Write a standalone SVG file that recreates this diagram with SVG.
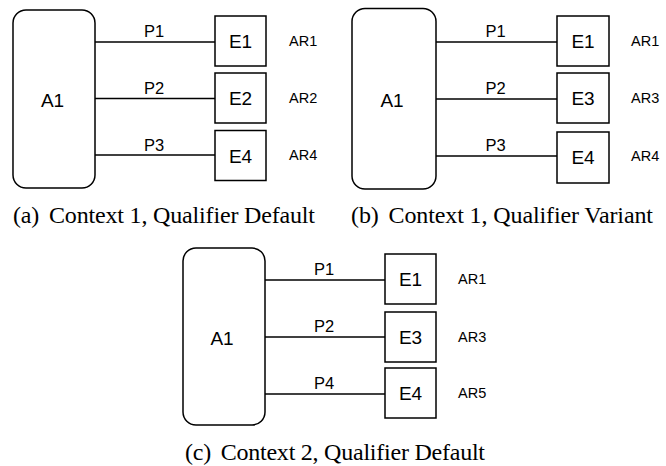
<svg xmlns="http://www.w3.org/2000/svg" width="666" height="466" viewBox="0 0 666 466">
<style>
.a{fill:#fff;stroke:#000;stroke-width:1.5}
.e{fill:#fff;stroke:#000;stroke-width:1.5}
.l{stroke:#000;stroke-width:1.3;fill:none}
.t{font-family:"Liberation Sans",Arial,sans-serif;fill:#000;text-anchor:middle}
.big{font-size:19px}
.p{font-size:16.5px}
.ar{font-family:"Liberation Sans",Arial,sans-serif;font-size:14.5px;fill:#000}
.cap{font-family:"Liberation Serif","Times New Roman",serif;font-size:24px;fill:#000}
</style>
<rect width="666" height="466" fill="#fff"/>
<g id="connectors">
<line class="l" x1="95" y1="42" x2="215" y2="42"/>
<line class="l" x1="95" y1="98.5" x2="215" y2="98.5"/>
<line class="l" x1="95" y1="155" x2="215" y2="155"/>
<line class="l" x1="436" y1="42" x2="557" y2="42"/>
<line class="l" x1="436" y1="99" x2="557" y2="99"/>
<line class="l" x1="436" y1="156" x2="557" y2="156"/>
<line class="l" x1="265" y1="280" x2="385" y2="280"/>
<line class="l" x1="265" y1="337" x2="385" y2="337"/>
<line class="l" x1="265" y1="394" x2="385" y2="394"/>
<text class="t p" x="154" y="37">P1</text>
<text class="t p" x="154" y="93.5">P2</text>
<text class="t p" x="154" y="150.5">P3</text>
<text class="t p" x="495.5" y="37">P1</text>
<text class="t p" x="495.5" y="94">P2</text>
<text class="t p" x="495.5" y="151">P3</text>
<text class="t p" x="324" y="275">P1</text>
<text class="t p" x="324" y="332">P2</text>
<text class="t p" x="324" y="389">P4</text>
</g>
<g id="a-A1"><rect class="a" x="13" y="10" width="82" height="178" rx="13"/><text class="t big" x="52.5" y="107">A1</text></g>
<g id="a-E1"><rect class="e" x="215" y="16" width="51" height="50"/><text class="t big" x="240.5" y="48">E1</text><text class="ar" x="289" y="45.5">AR1</text></g>
<g id="a-E2"><rect class="e" x="215" y="73" width="51" height="50"/><text class="t big" x="240.5" y="105">E2</text><text class="ar" x="289" y="102.5">AR2</text></g>
<g id="a-E4"><rect class="e" x="215" y="130.5" width="51" height="50"/><text class="t big" x="240.5" y="162.5">E4</text><text class="ar" x="289" y="159.5">AR4</text></g>
<g id="b-A1"><rect class="a" x="352" y="8.5" width="84" height="180.5" rx="13"/><text class="t big" x="392" y="107">A1</text></g>
<g id="b-E1"><rect class="e" x="557" y="16" width="52" height="50"/><text class="t big" x="583" y="48">E1</text><text class="ar" x="631" y="45.5">AR1</text></g>
<g id="b-E3"><rect class="e" x="557" y="73" width="52" height="50"/><text class="t big" x="583" y="105">E3</text><text class="ar" x="631" y="102.5">AR3</text></g>
<g id="b-E4"><rect class="e" x="557" y="132" width="52" height="51"/><text class="t big" x="583" y="164">E4</text><text class="ar" x="631" y="161">AR4</text></g>
<g id="c-A1"><rect class="a" x="183" y="248" width="82" height="177" rx="13"/><text class="t big" x="222" y="345">A1</text></g>
<g id="c-E1"><rect class="e" x="385" y="254" width="51" height="50"/><text class="t big" x="410.5" y="286">E1</text><text class="ar" x="458" y="283.5">AR1</text></g>
<g id="c-E3"><rect class="e" x="385" y="312" width="51" height="50"/><text class="t big" x="410.5" y="344">E3</text><text class="ar" x="458" y="341.5">AR3</text></g>
<g id="c-E4"><rect class="e" x="385" y="368" width="51" height="50"/><text class="t big" x="410.5" y="400">E4</text><text class="ar" x="458" y="397.5">AR5</text></g>
<g id="captions">
<text class="cap" x="13" y="223" textLength="302" lengthAdjust="spacing">(a) <tspan dx="4">Context 1, Qualifier Default</tspan></text>
<text class="cap" x="351" y="223" textLength="302" lengthAdjust="spacing">(b) <tspan dx="4">Context 1, Qualifier Variant</tspan></text>
<text class="cap" x="185" y="460" textLength="300" lengthAdjust="spacing">(c) <tspan dx="4">Context 2, Qualifier Default</tspan></text>
</g>
</svg>
